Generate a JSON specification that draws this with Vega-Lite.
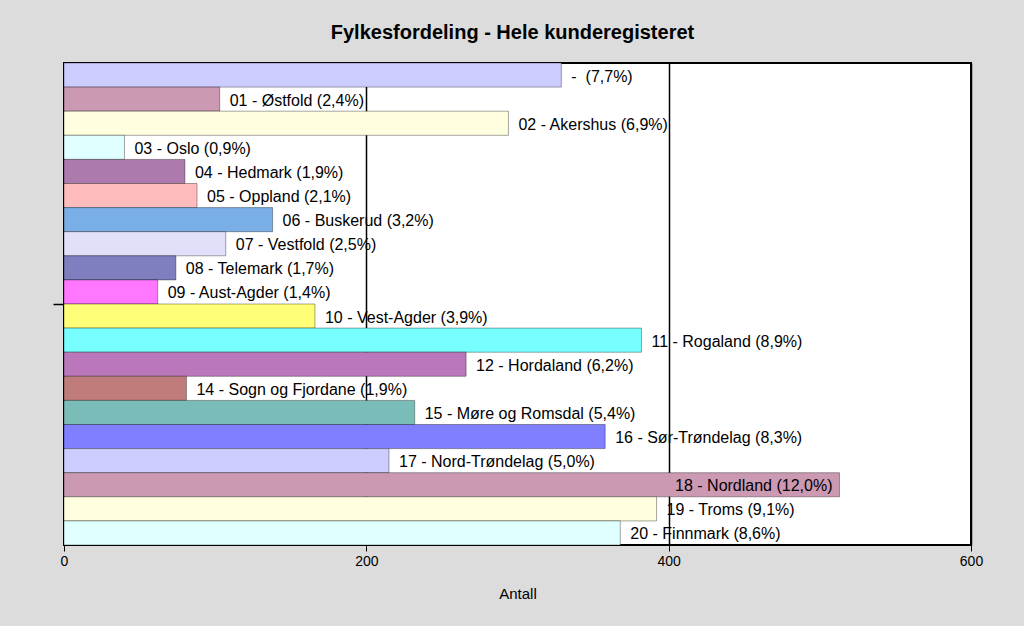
{
  "$schema": "https://vega.github.io/schema/vega-lite/v6.json",
  "width": 907,
  "height": 482,
  "autosize": "none",
  "padding": {"left": 64, "top": 63, "right": 53, "bottom": 81},
  "background": "#dcdcdc",
  "title": {
    "text": "Fylkesfordeling - Hele kunderegisteret",
    "font": "Liberation Sans",
    "fontSize": 20,
    "fontWeight": "bold",
    "color": "#000000",
    "anchor": "middle",
    "dx": -5,
    "offset": 20
  },
  "config": {
    "view": {"fill": "#ffffff", "stroke": "#000000", "strokeWidth": 2},
    "font": "Liberation Sans"
  },
  "data": {
    "values": [
      {"label": "\u00a0-\u00a0 (7,7%)", "value": 329, "color": "#ccccff"},
      {"label": "01 - Østfold (2,4%)", "value": 103, "color": "#cc99b3"},
      {"label": "02 - Akershus (6,9%)", "value": 294, "color": "#ffffe0"},
      {"label": "03 - Oslo (0,9%)", "value": 40, "color": "#e0ffff"},
      {"label": "04 - Hedmark (1,9%)", "value": 80, "color": "#ad7aad"},
      {"label": "05 - Oppland (2,1%)", "value": 88, "color": "#ffbcbc"},
      {"label": "06 - Buskerud (3,2%)", "value": 138, "color": "#7aaee6"},
      {"label": "07 - Vestfold (2,5%)", "value": 107, "color": "#e0e0fa"},
      {"label": "08 - Telemark (1,7%)", "value": 74, "color": "#7f7fc0"},
      {"label": "09 - Aust-Agder (1,4%)", "value": 62, "color": "#ff77ff"},
      {"label": "10 - Vest-Agder (3,9%)", "value": 166, "color": "#ffff77"},
      {"label": "11 - Rogaland (8,9%)", "value": 382, "color": "#77ffff"},
      {"label": "12 - Hordaland (6,2%)", "value": 266, "color": "#bb77bb"},
      {"label": "14 - Sogn og Fjordane (1,9%)", "value": 81, "color": "#c07c7a"},
      {"label": "15 - Møre og Romsdal (5,4%)", "value": 232, "color": "#7abcb8"},
      {"label": "16 - Sør-Trøndelag (8,3%)", "value": 358, "color": "#7f7fff"},
      {"label": "17 - Nord-Trøndelag (5,0%)", "value": 215, "color": "#ccccff"},
      {"label": "18 - Nordland (12,0%)", "value": 513, "color": "#cc99b3"},
      {"label": "19 - Troms (9,1%)", "value": 392, "color": "#ffffe0"},
      {"label": "20 - Finnmark (8,6%)", "value": 368, "color": "#e0ffff"}
    ]
  },
  "encoding": {
    "x": {
      "field": "value",
      "type": "quantitative",
      "scale": {"domain": [0, 600], "nice": false},
      "axis": {
        "values": [0, 200, 400, 600],
        "title": "Antall",
        "titleFont": "Liberation Sans",
        "titleFontSize": 15,
        "titleFontWeight": "normal",
        "titleColor": "#000000",
        "titlePadding": 18,
        "labelFont": "Liberation Sans",
        "labelFontSize": 14,
        "labelColor": "#000000",
        "labelPadding": 3,
        "labelFlush": false,
        "domain": false,
        "ticks": true,
        "tickSize": 6,
        "tickColor": "#000000",
        "tickWidth": 1,
        "grid": true,
        "gridColor": "#000000",
        "gridWidth": 1.5,
        "gridOpacity": 1
      }
    }
  },
  "layer": [
    {
      "encoding": {
        "y": {
          "field": "label",
          "type": "nominal",
          "sort": null,
          "scale": {"paddingInner": 0, "paddingOuter": 0},
          "axis": null
        }
      },
      "layer": [
        {
          "mark": {"type": "bar", "stroke": "#000000", "strokeOpacity": 0.35, "strokeWidth": 1},
          "encoding": {
            "fill": {"field": "color", "type": "nominal", "scale": null}
          }
        },
        {
          "transform": [{"filter": "datum.value < 450"}],
          "mark": {"type": "text", "align": "left", "baseline": "middle", "dx": 10, "dy": 1.5, "fontSize": 16, "font": "Liberation Sans", "color": "#000000"},
          "encoding": {
            "text": {"field": "label"}
          }
        },
        {
          "transform": [{"filter": "datum.value >= 450"}],
          "mark": {"type": "text", "align": "right", "baseline": "middle", "dx": -7, "dy": 1.5, "fontSize": 16, "font": "Liberation Sans", "color": "#000000"},
          "encoding": {
            "text": {"field": "label"}
          }
        }
      ]
    },
    {
      "mark": {"type": "point", "opacity": 0},
      "encoding": {
        "x": {"datum": 0, "type": "quantitative"},
        "y": {
          "datum": 0.5,
          "type": "quantitative",
          "scale": {"domain": [0, 1]},
          "axis": {
            "orient": "left",
            "values": [0.5],
            "labels": false,
            "title": null,
            "domain": false,
            "grid": false,
            "ticks": true,
            "tickSize": 11,
            "tickColor": "#000000",
            "tickWidth": 1.5
          }
        }
      }
    }
  ],
  "resolve": {"scale": {"y": "independent"}}
}
